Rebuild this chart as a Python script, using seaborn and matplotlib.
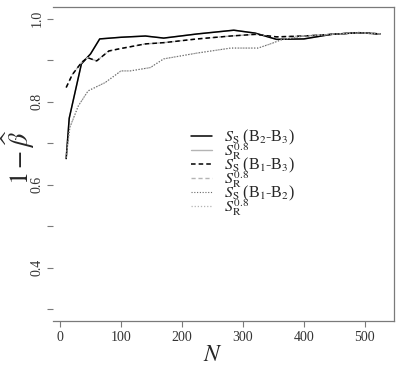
import matplotlib
matplotlib.use("Agg")
import matplotlib.pyplot as plt
import seaborn as sns

# ── Data ──────────────────────────────────────────────────────────────
n_b23 = [10, 15, 35, 50, 65, 100, 140, 170, 225, 285, 320, 355, 400, 445, 490, 525]
ss_b23 = [0.663, 0.760, 0.891, 0.915, 0.951, 0.955, 0.958, 0.953, 0.963, 0.972,
          0.965, 0.950, 0.951, 0.962, 0.966, 0.963]
sr_b23 = [0.663, 0.760, 0.891, 0.915, 0.951, 0.955, 0.958, 0.953, 0.963, 0.972,
          0.965, 0.950, 0.951, 0.962, 0.966, 0.963]

n_b13 = [10, 20, 35, 45, 60, 80, 100, 140, 170, 225, 280, 320, 355, 400, 445, 490, 525]
ss_b13 = [0.834, 0.865, 0.894, 0.906, 0.898, 0.922, 0.928, 0.939, 0.942, 0.951,
          0.958, 0.962, 0.956, 0.958, 0.962, 0.966, 0.963]
sr_b13 = [0.834, 0.865, 0.894, 0.906, 0.898, 0.922, 0.928, 0.939, 0.942, 0.951,
          0.958, 0.962, 0.956, 0.958, 0.962, 0.966, 0.963]

n_b12 = [10, 16, 30, 46, 74, 100, 115, 148, 170, 225, 280, 325, 345, 365, 400, 445, 490, 525]
ss_b12 = [0.665, 0.738, 0.790, 0.826, 0.846, 0.874, 0.874, 0.882, 0.903, 0.917,
          0.929, 0.929, 0.939, 0.950, 0.958, 0.962, 0.966, 0.963]
sr_b12 = [0.665, 0.738, 0.790, 0.826, 0.846, 0.874, 0.874, 0.882, 0.903, 0.917,
          0.929, 0.929, 0.939, 0.950, 0.958, 0.962, 0.966, 0.963]

labels = [r"$S_{\mathrm{S}}$ (B$_2$-B$_3$)", r"$S_{\mathrm{R}}^{0.8}$",
          r"$S_{\mathrm{S}}$ (B$_1$-B$_3$)", r"$S_{\mathrm{R}}^{0.8}$",
          r"$S_{\mathrm{S}}$ (B$_1$-B$_2$)", r"$S_{\mathrm{R}}^{0.8}$"]

x_ticks = [0, 100, 200, 300, 400, 500]
y_ticks = [0.3, 0.4, 0.5, 0.6, 0.7, 0.8, 0.9, 1.0]
y_ticklabels = ["", "0.4", "", "0.6", "", "0.8", "", "1.0"]

# ── Theme ─────────────────────────────────────────────────────────────
BLACK = "#000000"
GRAY = "#b4b4b4"
SPINE = "#7a7a7a"

sns.set_theme(style="ticks")
plt.rcParams.update({
    "font.family": ["Liberation Serif", "DejaVu Serif"],
    "mathtext.fontset": "stix",
    "axes.edgecolor": SPINE,
    "xtick.color": SPINE,
    "ytick.color": SPINE,
    "xtick.labelcolor": "#333333",
    "ytick.labelcolor": "#333333",
})

fig = plt.figure(figsize=(3.99, 3.65), dpi=100)
ax = fig.add_axes([0.133, 0.1205, 0.854, 0.8605])

series = [
    (n_b23, sr_b23, GRAY, "-", 1.0),
    (n_b23, ss_b23, BLACK, "-", 1.1),
    (n_b13, sr_b13, GRAY, (0, (3, 2)), 1.0),
    (n_b13, ss_b13, BLACK, (0, (3, 2)), 1.1),
    (n_b12, sr_b12, GRAY, (0, (1, 1.5)), 0.9),
    (n_b12, ss_b12, "#6a6a6a", (0, (1, 1.5)), 0.8),
]
for xs, ys, col, ls, lw in series:
    sns.lineplot(x=xs, y=ys, ax=ax, color=col, linestyle=ls, linewidth=lw,
                 estimator=None, sort=False)

ax.set_xlim(-11.5, 547.5)
ax.set_ylim(0.272, 1.028)
ax.set_xticks(x_ticks)
ax.set_xticklabels([str(t) for t in x_ticks], fontsize=10)
ax.set_yticks(y_ticks)
ax.set_yticklabels(y_ticklabels, fontsize=10, rotation=90, va="center")
ax.tick_params(axis="both", length=4, width=0.8, pad=3)

ax.spines["left"].set_visible(False)
for s in ["top", "right", "bottom"]:
    ax.spines[s].set_linewidth(0.9)

ax.set_xlabel(r"$N$", fontsize=17)
ax.xaxis.set_label_coords(0.47, -0.075)
ax.set_ylabel(r"$1-\widehat{\beta}$", fontsize=19)
ax.yaxis.set_label_coords(-0.048, 0.52)

# legend in the order of the reference (S_S, S_R pairs)
order = [1, 0, 3, 2, 5, 4]
lines = ax.get_lines()
handles = [lines[i] for i in order]
ax.legend(handles, labels, loc="upper left", bbox_to_anchor=(0.38, 0.64),
          frameon=False, fontsize=11.5, handlelength=1.35, handletextpad=0.75,
          labelspacing=-0.38, borderpad=0)

fig.savefig("out.png", dpi=100)
plt.close(fig)
